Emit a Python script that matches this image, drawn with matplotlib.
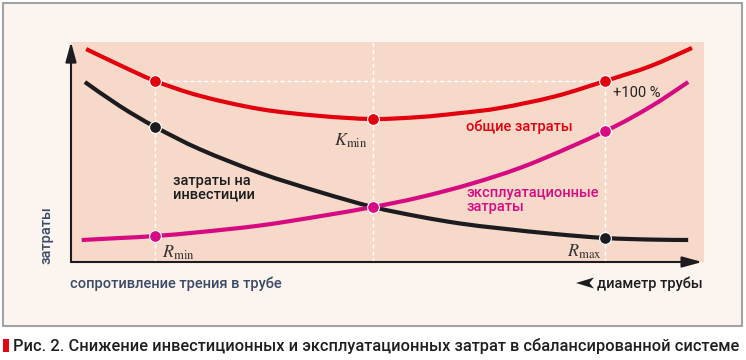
import matplotlib
matplotlib.use("Agg")
import matplotlib.pyplot as plt
from matplotlib.patches import Rectangle, Polygon, PathPatch
from matplotlib.path import Path

# ---------------- data ----------------
x_total = [2.4, 7.7, 13.3, 20.4, 29.9, 39.3, 47.7, 55.1, 61.5, 67.8, 76.5, 84.4, 91.5, 98.1]
total = [96.8, 89.5, 82.3, 75.5, 69.5, 66.4, 65.0, 65.9, 67.7, 70.0, 75.3, 82.3, 89.0, 97.3]

x_invest = [2.2, 7.7, 13.3, 20.4, 29.9, 39.3, 47.7, 55.1, 61.5, 67.8, 76.5, 84.4, 91.5, 97.5]
invest = [81.8, 70.9, 61.4, 51.2, 40.4, 31.8, 25.0, 20.6, 17.5, 15.3, 12.7, 10.9, 10.2, 10.0]

x_oper = [1.7, 7.7, 13.3, 20.4, 29.9, 39.3, 47.7, 55.1, 63.5, 72.5, 84.4, 91.5, 97.5]
oper = [10.0, 10.9, 11.8, 13.6, 16.6, 20.8, 25.0, 29.4, 35.8, 44.5, 59.5, 70.5, 81.8]

key_x = [13.3, 47.7, 84.4]          # R_min, K_min, R_max
total_pts = [82.3, 65.0, 82.3]
invest_x = [13.3, 84.4]
invest_pts = [61.4, 10.9]
oper_pts = [11.8, 25.0, 59.5]

# ---------------- style ----------------
RED = "#e2000f"
MAG = "#d60b82"
BLK = "#1c1c20"
PINK = "#f7d9c9"
FRAME = "#fcf4ee"
SLATE = "#3c4a67"

plt.rcParams['font.family'] = ['Roboto', 'DejaVu Sans']
plt.rcParams['mathtext.fontset'] = 'stix'

W, H = 746, 360
fig = plt.figure(figsize=(W / 100, H / 100), dpi=100)
fig.patch.set_facecolor("white")

def fx(px):
    return px / W

def fy(py):
    return 1 - py / H

def smooth_path(xs, ys):
    """Catmull-Rom curve through the given points, as cubic Bezier segments."""
    pts = list(zip(xs, ys))
    n = len(pts)
    verts = [pts[0]]
    codes = [Path.MOVETO]
    for i in range(n - 1):
        p0 = pts[i - 1] if i > 0 else pts[i]
        p1 = pts[i]
        p2 = pts[i + 1]
        p3 = pts[i + 2] if i + 2 < n else pts[i + 1]
        c1 = (p1[0] + (p2[0] - p0[0]) / 6, p1[1] + (p2[1] - p0[1]) / 6)
        c2 = (p2[0] - (p3[0] - p1[0]) / 6, p2[1] - (p3[1] - p1[1]) / 6)
        verts += [c1, c2, p2]
        codes += [Path.CURVE4] * 3
    return Path(verts, codes)

# outer frame
fig.patches.append(Rectangle((fx(2.5), fy(326)), fx(741.5) - fx(2.5), fy(3) - fy(326),
                             transform=fig.transFigure, facecolor=FRAME,
                             edgecolor="#a3a3a3", lw=1.5, zorder=-10))

ax = fig.add_axes([fx(71), fy(262), fx(704) - fx(71), fy(42) - fy(262)])
ax.set_zorder(1)
ax.set_xlim(0, 100)
ax.set_ylim(0, 100)
ax.set_facecolor(PINK)
for s in ax.spines.values():
    s.set_visible(False)
ax.set_xticks([])
ax.set_yticks([])

# dashed guide lines
dash = dict(color="white", lw=1.0, ls=(0, (3, 2)), zorder=1)
ax.plot([key_x[0], key_x[0]], [0, total_pts[0]], **dash)
ax.plot([key_x[1], key_x[1]], [0, 100], **dash)
ax.plot([key_x[2], key_x[2]], [0, total_pts[2]], **dash)
ax.plot([key_x[0], key_x[2]], [total_pts[0], total_pts[2]], **dash)

# curves
for xs, ys, c in [(x_total, total, RED), (x_invest, invest, BLK), (x_oper, oper, MAG)]:
    ax.add_patch(PathPatch(smooth_path(xs, ys), facecolor="none", edgecolor=c,
                           lw=3.0, capstyle="butt", joinstyle="round", zorder=3))

mk = dict(ls="none", marker="o", ms=8.5, mec="white", mew=0.8, zorder=5)
ax.plot(key_x, total_pts, color=RED, **mk)
ax.plot(invest_x, invest_pts, color=BLK, **mk)
ax.plot(key_x, oper_pts, color=MAG, **mk)

# axes arrows
arr = dict(arrowstyle="-|>,head_length=0.8,head_width=0.22", color=BLK, lw=1.5,
           mutation_scale=15, shrinkA=0, shrinkB=0)
ax.annotate("", xy=(0, 1.0), xytext=(0, 0), xycoords="axes fraction",
            textcoords="axes fraction", arrowprops=arr, annotation_clip=False)
ax.annotate("", xy=(0.997, 0), xytext=(0, 0), xycoords="axes fraction",
            textcoords="axes fraction", arrowprops=arr, annotation_clip=False)

# labels inside plot
ax.text(46.9, 55.0, r"$K_{\mathrm{min}}$", ha="right", va="center", fontsize=13, color="#333333")
ax.text(14.4, 4.3, r"$R_{\mathrm{min}}$", ha="left", va="center", fontsize=13, color="#333333")
ax.text(83.9, 4.8, r"$R_{\mathrm{max}}$", ha="right", va="center", fontsize=13, color="#333333")
ax.text(85.6, 76.8, "+100 %", ha="left", va="center", fontsize=10.5, color="#222222")
ax.text(62.4, 61.4, "общие затраты", ha="left", va="center", fontsize=10.5,
        color=RED, fontweight="medium")
ax.text(62.4, 28.2, "эксплуатационные\nзатраты", ha="left", va="center", fontsize=10.5,
        color=MAG, fontweight="medium", linespacing=0.95)
ax.text(16.1, 33.6, "затраты на\nинвестиции", ha="left", va="center", fontsize=10.5,
        color=BLK, fontweight="medium", linespacing=0.95)

# outside labels
fig.text(fx(46), fy(235), "затраты", rotation=90, ha="center", va="center",
         fontsize=10.5, color=SLATE, fontweight="medium")
fig.text(fx(70), fy(284), "сопротивление трения в трубе", ha="left", va="center",
         fontsize=10.5, color=SLATE, fontweight="medium")
fig.text(fx(703), fy(284), "диаметр трубы", ha="right", va="center",
         fontsize=10.5, color=BLK, fontweight="medium")
fig.patches.append(Polygon([(fx(576), fy(283)), (fx(594), fy(277.5)), (fx(589.5), fy(283)),
                            (fx(594), fy(288.5))], closed=True, transform=fig.transFigure,
                           facecolor=BLK, edgecolor="none", zorder=3))

# caption
fig.patches.append(Rectangle((fx(3.5), fy(352)), fx(8.5) - fx(3.5), fy(339) - fy(352),
                             transform=fig.transFigure, facecolor="#e30613",
                             edgecolor="none"))
cap = fig.text(fx(13), fy(346), "Рис. 2. Снижение инвестиционных и эксплуатационных затрат в сбалансированной системе",
               ha="left", va="center", fontsize=13, color="#1e1e1e", fontweight="medium")
fig.canvas.draw()
bb = cap.get_window_extent(fig.canvas.get_renderer())
cap.set_fontsize(13 * 723 / bb.width)

fig.savefig("out.png", dpi=100, facecolor="white")
